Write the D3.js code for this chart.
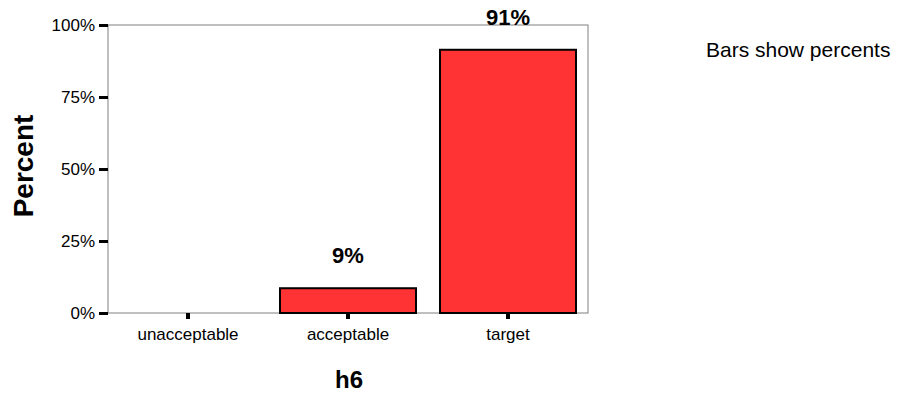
<!DOCTYPE html>
<html><head><meta charset="utf-8">
<script src="https://cdn.jsdelivr.net/npm/d3@7"></script>
<style>body{margin:0;background:#fff}svg{display:block}text{font-family:"Liberation Sans",Arial,sans-serif}</style>
</head><body><svg id="c" width="901" height="402"></svg>
<script>
const categories = ["unacceptable", "acceptable", "target"];
const percents = [0, 8.6, 91.4];
const valueLabels = ["", "9%", "91%"];
const yTicks = [0, 25, 50, 75, 100];
const yTickLabels = ["0%", "25%", "50%", "75%", "100%"];

const svg = d3.select("#c");
const L = 108, R = 588, T = 25, B = 313;
const x = d3.scaleBand().domain(categories).range([L, R]).paddingInner(0.15).paddingOuter(0.075);
const y = d3.scaleLinear().domain([0, 100]).range([B, T]);

// frame
svg.append("rect").attr("x", L).attr("y", T).attr("width", R - L).attr("height", B - T)
  .attr("fill", "none").attr("stroke", "#808080").attr("stroke-width", 1);

// bars
categories.forEach((c, i) => {
  if (percents[i] > 0) {
    svg.append("rect").attr("x", x(c)).attr("y", y(percents[i]))
      .attr("width", x.bandwidth()).attr("height", y(0) - y(percents[i]))
      .attr("fill", "#ff3333").attr("stroke", "#000").attr("stroke-width", 2);
  }
  if (valueLabels[i]) {
    svg.append("text").attr("x", x(c) + x.bandwidth() / 2).attr("y", y(percents[i]) - 25)
      .attr("text-anchor", "middle").attr("font-size", 22).attr("font-weight", "bold").text(valueLabels[i]);
  }
});

// y axis
const yAxis = d3.axisLeft(y).tickValues(yTicks).tickFormat((d, i) => yTickLabels[i]).tickSize(9).tickPadding(4);
const gy = svg.append("g").attr("transform", `translate(${L},0)`).call(yAxis);
gy.select(".domain").remove();
gy.attr("font-size", 17).attr("font-family", "Liberation Sans, Arial, sans-serif");
gy.selectAll(".tick line").attr("stroke", "#000").attr("stroke-width", 3);
gy.selectAll(".tick text").attr("fill", "#000");

// x axis
const xAxis = d3.axisBottom(x).tickSize(6).tickPadding(9);
const gx = svg.append("g").attr("transform", `translate(0,${B})`).call(xAxis);
gx.select(".domain").remove();
gx.attr("font-size", 17).attr("font-family", "Liberation Sans, Arial, sans-serif");
gx.selectAll(".tick line").attr("stroke", "#000").attr("stroke-width", 4);
gx.selectAll(".tick text").attr("fill", "#000");

// titles
svg.append("text").attr("transform", "translate(33,166) rotate(-90)").attr("text-anchor", "middle")
  .attr("font-size", 28).attr("font-weight", "bold").text("Percent");
svg.append("text").attr("x", 349).attr("y", 388).attr("text-anchor", "middle")
  .attr("font-size", 24).attr("font-weight", "bold").text("h6");
svg.append("text").attr("x", 706).attr("y", 57).attr("font-size", 21).text("Bars show percents");
</script></body></html>
